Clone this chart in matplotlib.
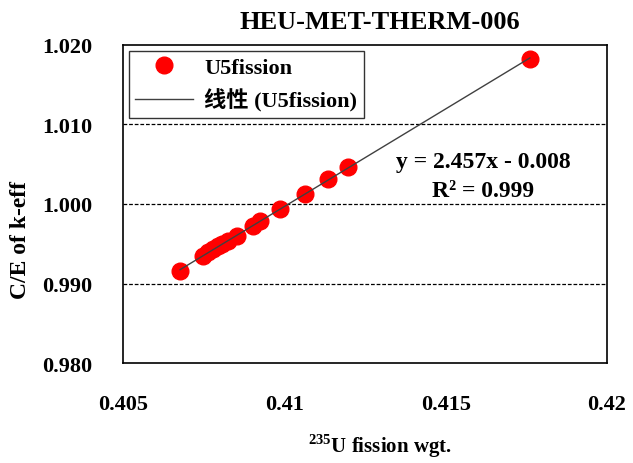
import numpy as np
import matplotlib
matplotlib.use("Agg")
import matplotlib.pyplot as plt

plt.rcParams['font.family'] = ['Liberation Serif', 'Noto Sans CJK SC', 'DejaVu Sans']
plt.rcParams['font.weight'] = 'bold'
plt.rcParams['mathtext.fontset'] = 'custom'
plt.rcParams['mathtext.rm'] = 'Liberation Serif:bold'
plt.rcParams['mathtext.bf'] = 'Liberation Serif:bold'

# data
u5_wgt = [0.40677, 0.40748, 0.40765, 0.40779, 0.40795, 0.40807, 0.40825, 0.40853,
          0.40903, 0.40925, 0.40987, 0.41064, 0.41135, 0.41197, 0.41761]
ce_keff = [0.99157, 0.99346, 0.99390, 0.99434, 0.99470, 0.99497, 0.99535, 0.99598,
           0.99723, 0.99786, 0.99937, 1.00126, 1.00315, 1.00465, 1.01824]
xticks = [0.405, 0.41, 0.415, 0.42]
xtick_labels = ['0.405', '0.41', '0.415', '0.42']
yticks = [0.98, 0.99, 1.00, 1.01, 1.02]
ytick_labels = ['0.980', '0.990', '1.000', '1.010', '1.020']

fig = plt.figure(figsize=(6.33, 4.64), dpi=100)
ax = fig.add_axes([0.1943, 0.2155, 0.7646, 0.6854])

for g in [0.99, 1.00, 1.01]:
    ax.axhline(g, color='black', lw=0.9, ls=(0, (3, 1.5)), zorder=1)

ax.plot(u5_wgt, ce_keff, 'o', color='#ff0000', markersize=12, mec='#ff0000',
        label='U5fission', zorder=3)
coef = np.polyfit(u5_wgt, ce_keff, 1)
xs = np.array([min(u5_wgt), max(u5_wgt)])
ax.plot(xs, np.polyval(coef, xs), color='#404040', lw=1.0,
        label='线性 (U5fission)', zorder=4)

ax.set_xlim(0.405, 0.42)
ax.set_ylim(0.98, 1.02)
ax.set_xticks(xticks)
ax.set_xticklabels(xtick_labels)
ax.set_yticks(yticks)
ax.set_yticklabels(ytick_labels)
ax.tick_params(axis='x', length=0, pad=22, labelsize=16)
ax.tick_params(axis='y', length=0, pad=22, labelsize=16)
for s in ax.spines.values():
    s.set_linewidth(1.2)

ax.set_title('HEU-MET-THERM-006', fontsize=19, fontweight='bold', pad=12, x=0.53)
ax.set_xlabel('$^{235}$U fission wgt.', fontsize=15, fontweight='bold')
ax.set_ylabel('C/E of k-eff', fontsize=17, fontweight='bold')
ax.xaxis.set_label_coords(0.53, -0.215)
ax.yaxis.set_label_coords(-0.19, 0.39)

ax.text(0.744, 0.635, 'y = 2.457x - 0.008', transform=ax.transAxes,
        ha='center', va='center', fontsize=17)
ax.text(0.744, 0.543, 'R² = 0.999', transform=ax.transAxes,
        ha='center', va='center', fontsize=17)

leg = ax.legend(loc='upper left', bbox_to_anchor=(0.012, 0.982), fontsize=16,
                frameon=True, fancybox=False, edgecolor='black', borderpad=0.3,
                handlelength=2.6, handletextpad=0.5, labelspacing=0.45,
                borderaxespad=0)
leg.get_frame().set_linewidth(1.0)

fig.savefig('out.png', dpi=100)
